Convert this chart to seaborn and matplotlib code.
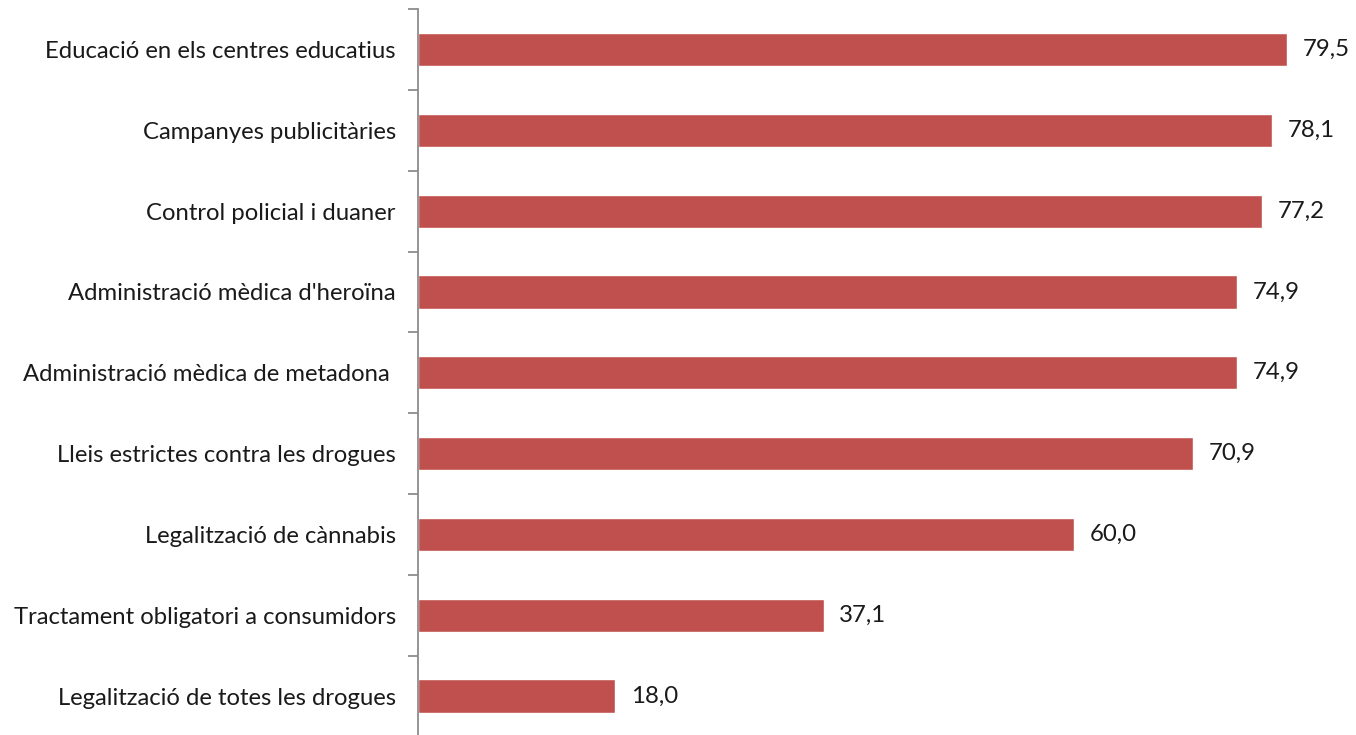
import numpy as np
import pandas as pd
import matplotlib
matplotlib.use('Agg')
import matplotlib.pyplot as plt
import seaborn as sns

# Valors llegits del gràfic (percentatge)
categories = [
    "Educació en els centres educatius",
    "Campanyes publicitàries",
    "Control policial i duaner",
    "Administració mèdica d'heroïna",
    "Administració mèdica de metadona ",
    "Lleis estrictes contra les drogues",
    "Legalització de cànnabis",
    "Tractament obligatori a consumidors",
    "Legalització de totes les drogues",
]
values = [79.5, 78.1, 77.2, 74.9, 74.9, 70.9, 60.0, 37.1, 18.0]
value_labels = ["79,5", "78,1", "77,2", "74,9", "74,9", "70,9", "60,0", "37,1", "18,0"]

df = pd.DataFrame({"categoria": categories, "valor": values})

sns.set_style('white')
plt.rcParams['font.family'] = ['Lato', 'DejaVu Sans']

fig = plt.figure(figsize=(13.56, 7.35), dpi=100)
ax = fig.add_axes([0.3082, -0.002, 0.6918, 0.9896])

sns.barplot(data=df, y="categoria", x="valor", orient='h', color='#C0504D',
            saturation=1, width=0.41, ax=ax)

# etiquetes de valor
for i, (v, t) in enumerate(zip(values, value_labels)):
    ax.text(v + 1.45, i, t, va='center', ha='left', fontsize=17.3,
            color='#1a1a1a')

ax.set_xlim(0, 85.8)
ax.set_ylim(len(categories) - 0.5, -0.5)
ax.set_xlabel('')
ax.set_ylabel('')
ax.set_xticks([])

# marques entre categories
ax.set_yticks(np.arange(len(categories) + 1) - 0.5, minor=True)
ax.tick_params(axis='y', which='minor', length=7, width=1.3, color='#8c8c8c', left=True)
ax.tick_params(axis='y', which='major', length=0, pad=16, labelsize=17.2, labelcolor='#1a1a1a')

for s in ['top', 'right', 'bottom']:
    ax.spines[s].set_visible(False)
ax.spines['left'].set_color('#8c8c8c')
ax.spines['left'].set_linewidth(1.3)

fig.savefig('out.png', dpi=100)
